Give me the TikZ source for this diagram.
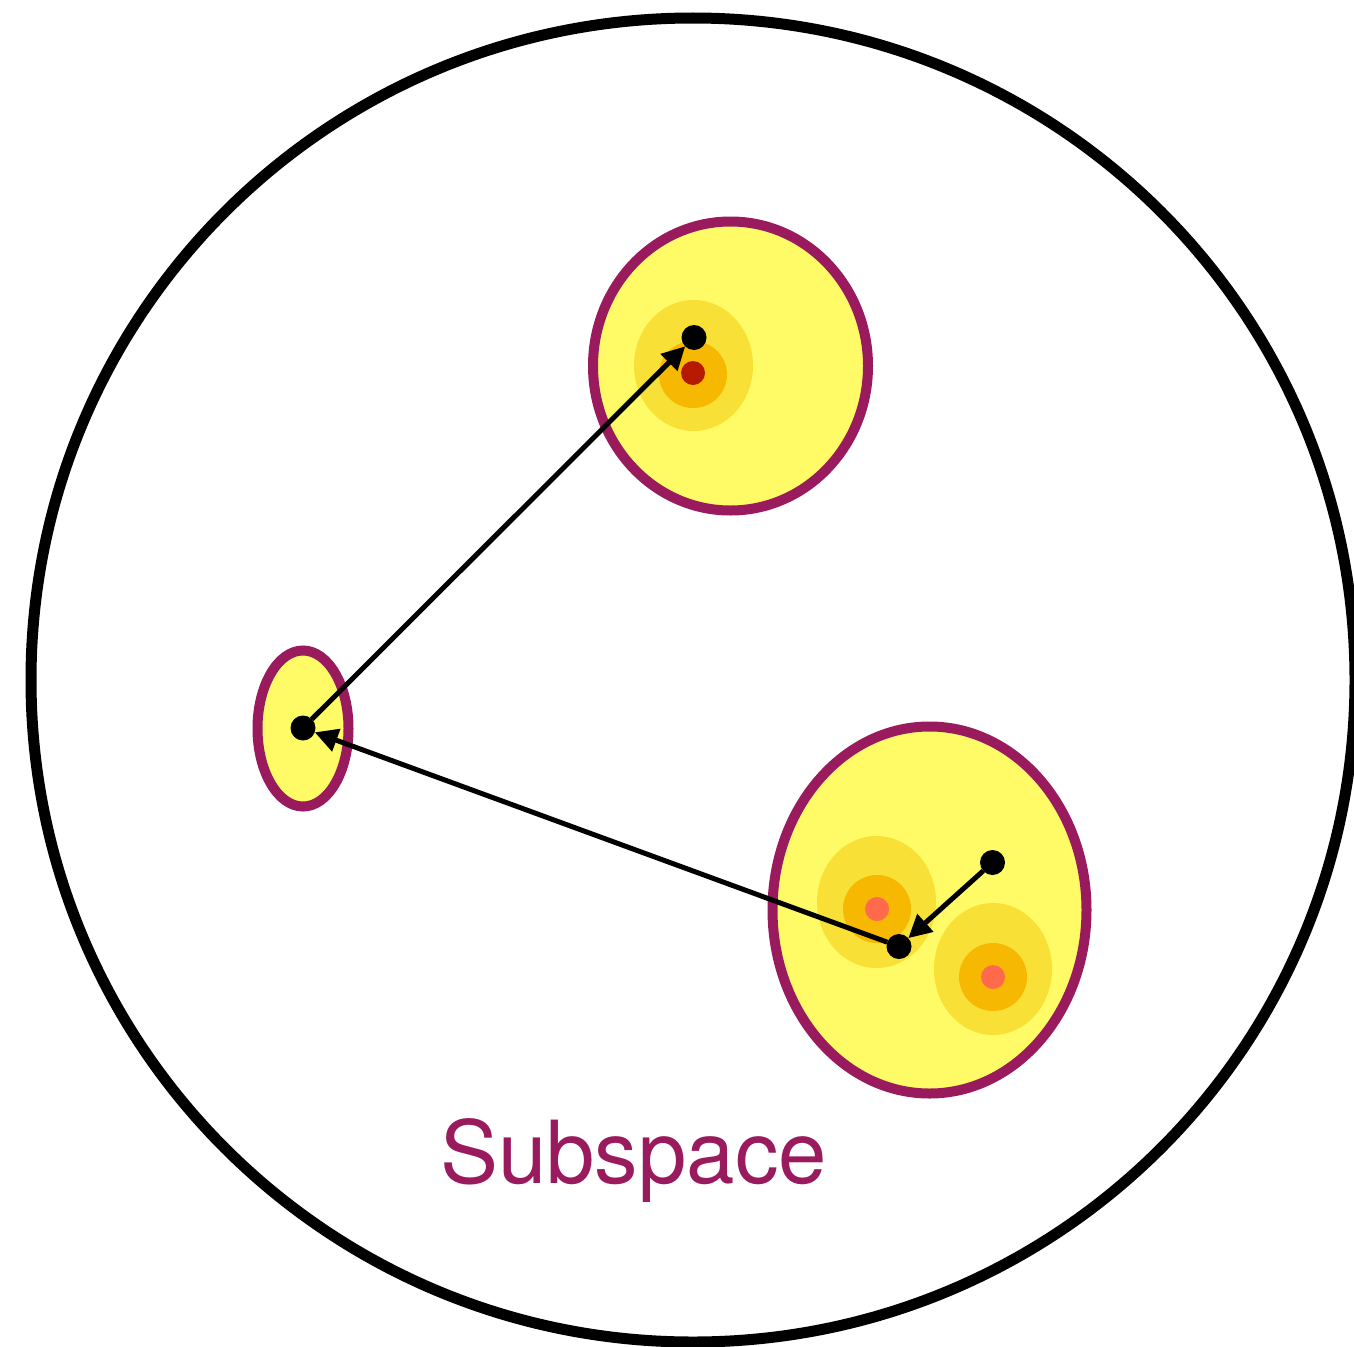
\documentclass[tikz,border=0pt]{standalone}
\usepackage{fontspec}
\setmainfont{TeX Gyre Heros}
\usetikzlibrary{arrows.meta}
\definecolor{pur}{HTML}{9A1A5E}
\definecolor{yel}{HTML}{FFFB66}
\definecolor{lor}{HTML}{F9E036}
\definecolor{ora}{HTML}{F7B801}
\definecolor{rd}{HTML}{B51A00}
\definecolor{cor}{HTML}{FF6A4D}
\tikzset{
  region/.style={draw=pur, line width=10pt, fill=yel},
  dot/.style={circle, fill=black, minimum size=25pt, inner sep=0pt, outer sep=0pt},
  conn/.style={line width=5pt, -{Triangle[length=23pt,width=23pt]}},
}
\begin{document}
\begin{tikzpicture}[x=1pt,y=-1pt]
\useasboundingbox (0,0) rectangle (1354,1346);
% outer circle
\draw[line width=11pt] (693,680) circle[radius=662];
% top region
\draw[region] (730.5,366) ellipse[x radius=137.5, y radius=144.5];
\fill[lor] (693.5,365.5) ellipse[x radius=59.5, y radius=65.5];
\fill[ora] (693,374.5) ellipse[x radius=34, y radius=33.5];
\fill[rd] (693,373) circle[radius=12];
% small region
\draw[region] (303,728.5) ellipse[x radius=45.5, y radius=78];
% bottom region
\draw[region] (929.5,910) ellipse[x radius=157, y radius=183.5];
\fill[lor] (876.5,902) ellipse[x radius=59.5, y radius=66];
\fill[ora] (877,909) circle[radius=34];
\fill[cor] (877,909) circle[radius=12];
\fill[lor] (993,969) ellipse[x radius=59, y radius=66];
\fill[ora] (993,977) circle[radius=34];
\fill[cor] (993,977) circle[radius=12];
% points
\node[dot] (top) at (694,337.5) {};
\node[dot] (small) at (303,728) {};
\node[dot] (mid) at (899,946.5) {};
\node[dot] (right) at (992.5,862.5) {};
% arrows
\draw[conn] (small) -- (top);
\draw[conn] (mid) -- (small);
\draw[conn] (right) -- (mid);
% label
\node[text=pur, font=\fontsize{87}{104}\selectfont, anchor=base, inner sep=0pt] (lbl) at (633.5,1183) {Subspace};
\end{tikzpicture}
\end{document}
